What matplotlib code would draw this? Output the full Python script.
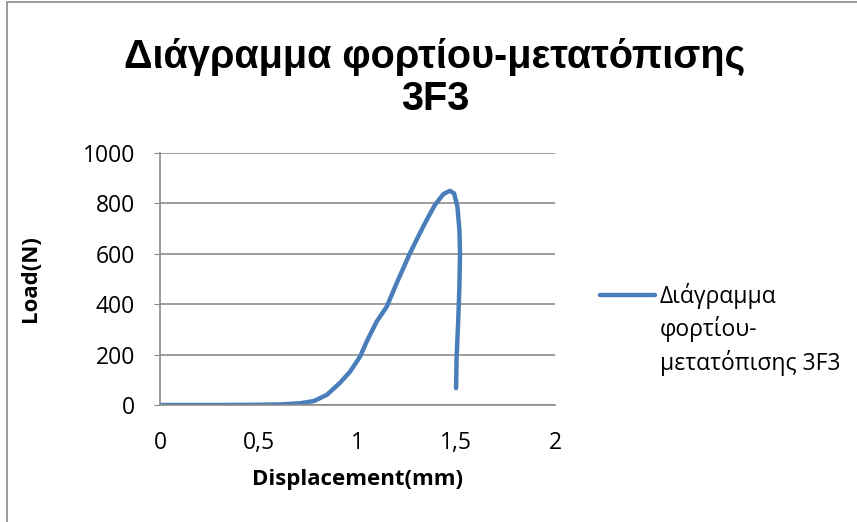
import matplotlib.pyplot as plt
from matplotlib.patches import Rectangle
from matplotlib.ticker import FuncFormatter

# Load-displacement readings (mm, N)
displacement = [0, 0.1, 0.2, 0.3, 0.4, 0.5, 0.6, 0.65, 0.71, 0.78, 0.844, 0.91, 0.962,
                1.013, 1.046, 1.097, 1.148, 1.198, 1.266, 1.316, 1.35, 1.392, 1.435,
                1.468, 1.489, 1.506, 1.516, 1.519, 1.516, 1.51, 1.502, 1.499]
load = [0, 0, 0, 0, 0.5, 1, 2, 4, 7, 16, 40, 87, 132,
        192, 251, 331, 390, 483, 603, 682, 734, 794, 837,
        850, 840, 787, 694, 603, 469, 337, 192, 67]

title = 'Διάγραμμα φορτίου-μετατόπισης\n3F3'
series_name = ['Διάγραμμα', 'φορτίου-', 'μετατόπισης 3F3']
x_ticks = [0, 0.5, 1, 1.5, 2]
y_ticks = [0, 200, 400, 600, 800, 1000]

body_font = ['Open Sans', 'DejaVu Sans']
grey = '#8c8c8c'

fig = plt.figure(figsize=(8.57, 5.22), dpi=100)
ax = fig.add_axes([160 / 857, 1 - 405 / 522, 395 / 857, 252 / 522])

line, = ax.plot(displacement, load, color='#4A7EBB', linewidth=3.2,
                solid_capstyle='round', solid_joinstyle='round')

ax.set_xlim(0, 2)
ax.set_ylim(0, 1000)
ax.set_xticks(x_ticks)
ax.set_yticks(y_ticks)
ax.xaxis.set_major_formatter(FuncFormatter(lambda v, p: ('%g' % v).replace('.', ',')))
ax.grid(axis='y', color=grey, linewidth=1.2)
ax.set_axisbelow(True)
for s in ['top', 'right']:
    ax.spines[s].set_visible(False)
for s in ['left', 'bottom']:
    ax.spines[s].set_color(grey)
    ax.spines[s].set_linewidth(1.2)
ax.tick_params(axis='x', length=0, pad=19)
ax.tick_params(axis='y', length=4, color=grey, pad=14)
for lbl in ax.get_xticklabels() + ax.get_yticklabels():
    lbl.set_family(body_font)
    lbl.set_fontsize(16.5)

ax.set_xlabel('Displacement(mm)', family=body_font, fontsize=16, fontweight='bold')
ax.set_ylabel('Load(N)', family=body_font, fontsize=16, fontweight='bold')
ax.xaxis.set_label_coords((357 - 160) / 395, -(480 - 405) / 252)
ax.yaxis.set_label_coords(-(160 - 30) / 395, 0.5)
ax.xaxis.label.set_va('center')
ax.yaxis.label.set_va('center')

fig.text(435 / 857, 1 - 78 / 522, title, ha='center', va='center',
         family=['Liberation Sans', 'DejaVu Sans'], fontsize=28.5, fontweight='bold',
         linespacing=1.15)

# legend on the right: handle next to the first line of the series name
fig.legend([line], [series_name[0]], loc='center left', bbox_to_anchor=(600 / 857, 1 - 296 / 522),
           frameon=False, handlelength=2.4, handletextpad=0.22, borderpad=0, borderaxespad=0,
           prop={'family': body_font, 'size': 16.5})
for i, txt in enumerate(series_name[1:], start=1):
    fig.text(660 / 857, 1 - (296 + 33.5 * i) / 522, txt, ha='left', va='center',
             family=body_font, fontsize=16.5)

# chart area border (left and top visible)
fig.patches.append(Rectangle((7.5 / 857, -0.1), 1.2, 1.1 - 1.5 / 522, transform=fig.transFigure,
                             fill=False, edgecolor=grey, linewidth=1.2))

fig.savefig('out.png', dpi=100)
